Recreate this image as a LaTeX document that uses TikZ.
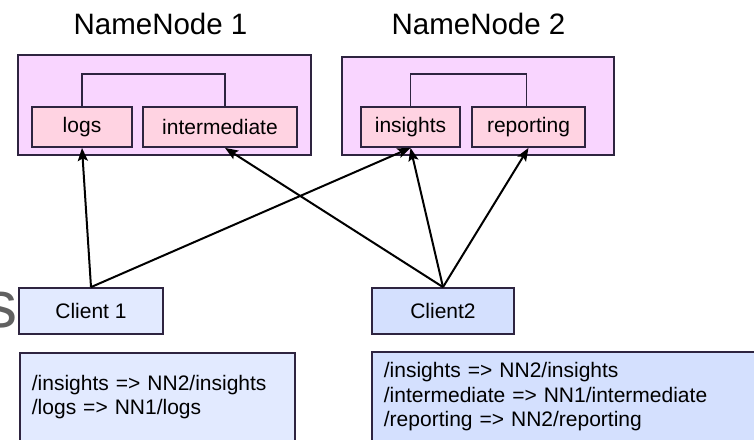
\documentclass[tikz,border=0pt]{standalone}
\usepackage{fontspec}
\setmainfont{Liberation Sans}
\usetikzlibrary{arrows.meta}
\definecolor{nnfill}{HTML}{F9D5FF}
\definecolor{dirfill}{HTML}{FFD3E2}
\definecolor{cloneffill}{HTML}{E2EAFF}
\definecolor{cltwofill}{HTML}{D4E0FE}
\definecolor{boxline}{HTML}{2E2440}
\tikzset{
    nnbox/.style={draw=boxline,line width=1.8pt,fill=nnfill,rectangle,anchor=center},
    dirbox/.style={draw=boxline,line width=1.8pt,fill=dirfill,rectangle,minimum height=40pt,anchor=center,font=\fontsize{21}{24}\selectfont},
    clientbox/.style={draw=boxline,line width=1.8pt,rectangle,minimum height=46pt,anchor=center,font=\fontsize{21}{24}\selectfont},
    mapbox/.style={draw=boxline,line width=1.8pt,rectangle,anchor=north west,align=left,inner xsep=12pt,font=\fontsize{21}{24.5}\selectfont},
    title/.style={anchor=base,inner sep=0pt,font=\fontsize{29.5}{32}\selectfont},
    mount/.style={line width=2pt,-{Stealth[length=13pt,width=10pt,inset=2.5pt]}}
}
\begin{document}
\begin{tikzpicture}[x=1pt,y=-1pt]
        \clip (0,0) rectangle (754,439);
        %% Titles
        \node[title] (T1) at (160.5,34) {NameNode 1};
        \node[title] (T2) at (478.5,34) {NameNode 2};
        %% NameNode 1
        \node[nnbox,minimum width=293pt,minimum height=100pt] (NN1) at (164.5,105) {};
        \node[dirbox,minimum width=100pt] (logs) at (82,127) {logs};
        \node[dirbox,minimum width=154pt] (inter) at (220,127) {intermediate};
        \draw[line width=1.8pt,draw=boxline] (logs.north) -- ++(0,-32) -| ([xshift=5pt]inter.north);
        %% NameNode 2
        \node[nnbox,minimum width=272pt,minimum height=98pt] (NN2) at (478,106) {};
        \node[dirbox,minimum width=99pt] (insights) at (410.5,127) {insights};
        \node[dirbox,minimum width=113pt] (report) at (528.5,127) {reporting};
        \draw[line width=1.8pt,draw=boxline] (insights.north) -- ++(0,-32) -| ([xshift=-2pt]report.north);
        %% Clients
        \node[clientbox,fill=cloneffill,minimum width=144pt] (C1) at (91,311) {Client 1};
        \node[clientbox,fill=cltwofill,minimum width=142pt] (C2) at (443,311) {Client2};
        %% Mount tables
        \node[mapbox,fill=cloneffill,text width=251pt,minimum height=88pt] (M1) at (19,352)
            {/insights => NN2/insights\\/logs => NN1/logs};
        \node[mapbox,fill=cltwofill,text width=376pt,minimum height=90pt] (M2) at (371,351)
            {/insights => NN2/insights\\/intermediate => NN1/intermediate\\/reporting => NN2/reporting};
        %% Arrows
        \draw[mount] (C1.north) -- (logs.south);
        \draw[mount] (C1.north) -- (insights.south);
        \draw[mount] (C2.north) -- ([xshift=5pt]inter.south);
        \draw[mount] (C2.north) -- (insights.south);
        \draw[mount] (C2.north) -- (report.south);
        %% Cut letter at the edge
        \node[anchor=base east,inner sep=0pt,text=black!62,font=\fontsize{66}{70}\selectfont] (S) at (18,327) {s};
    \end{tikzpicture}
\end{document}
